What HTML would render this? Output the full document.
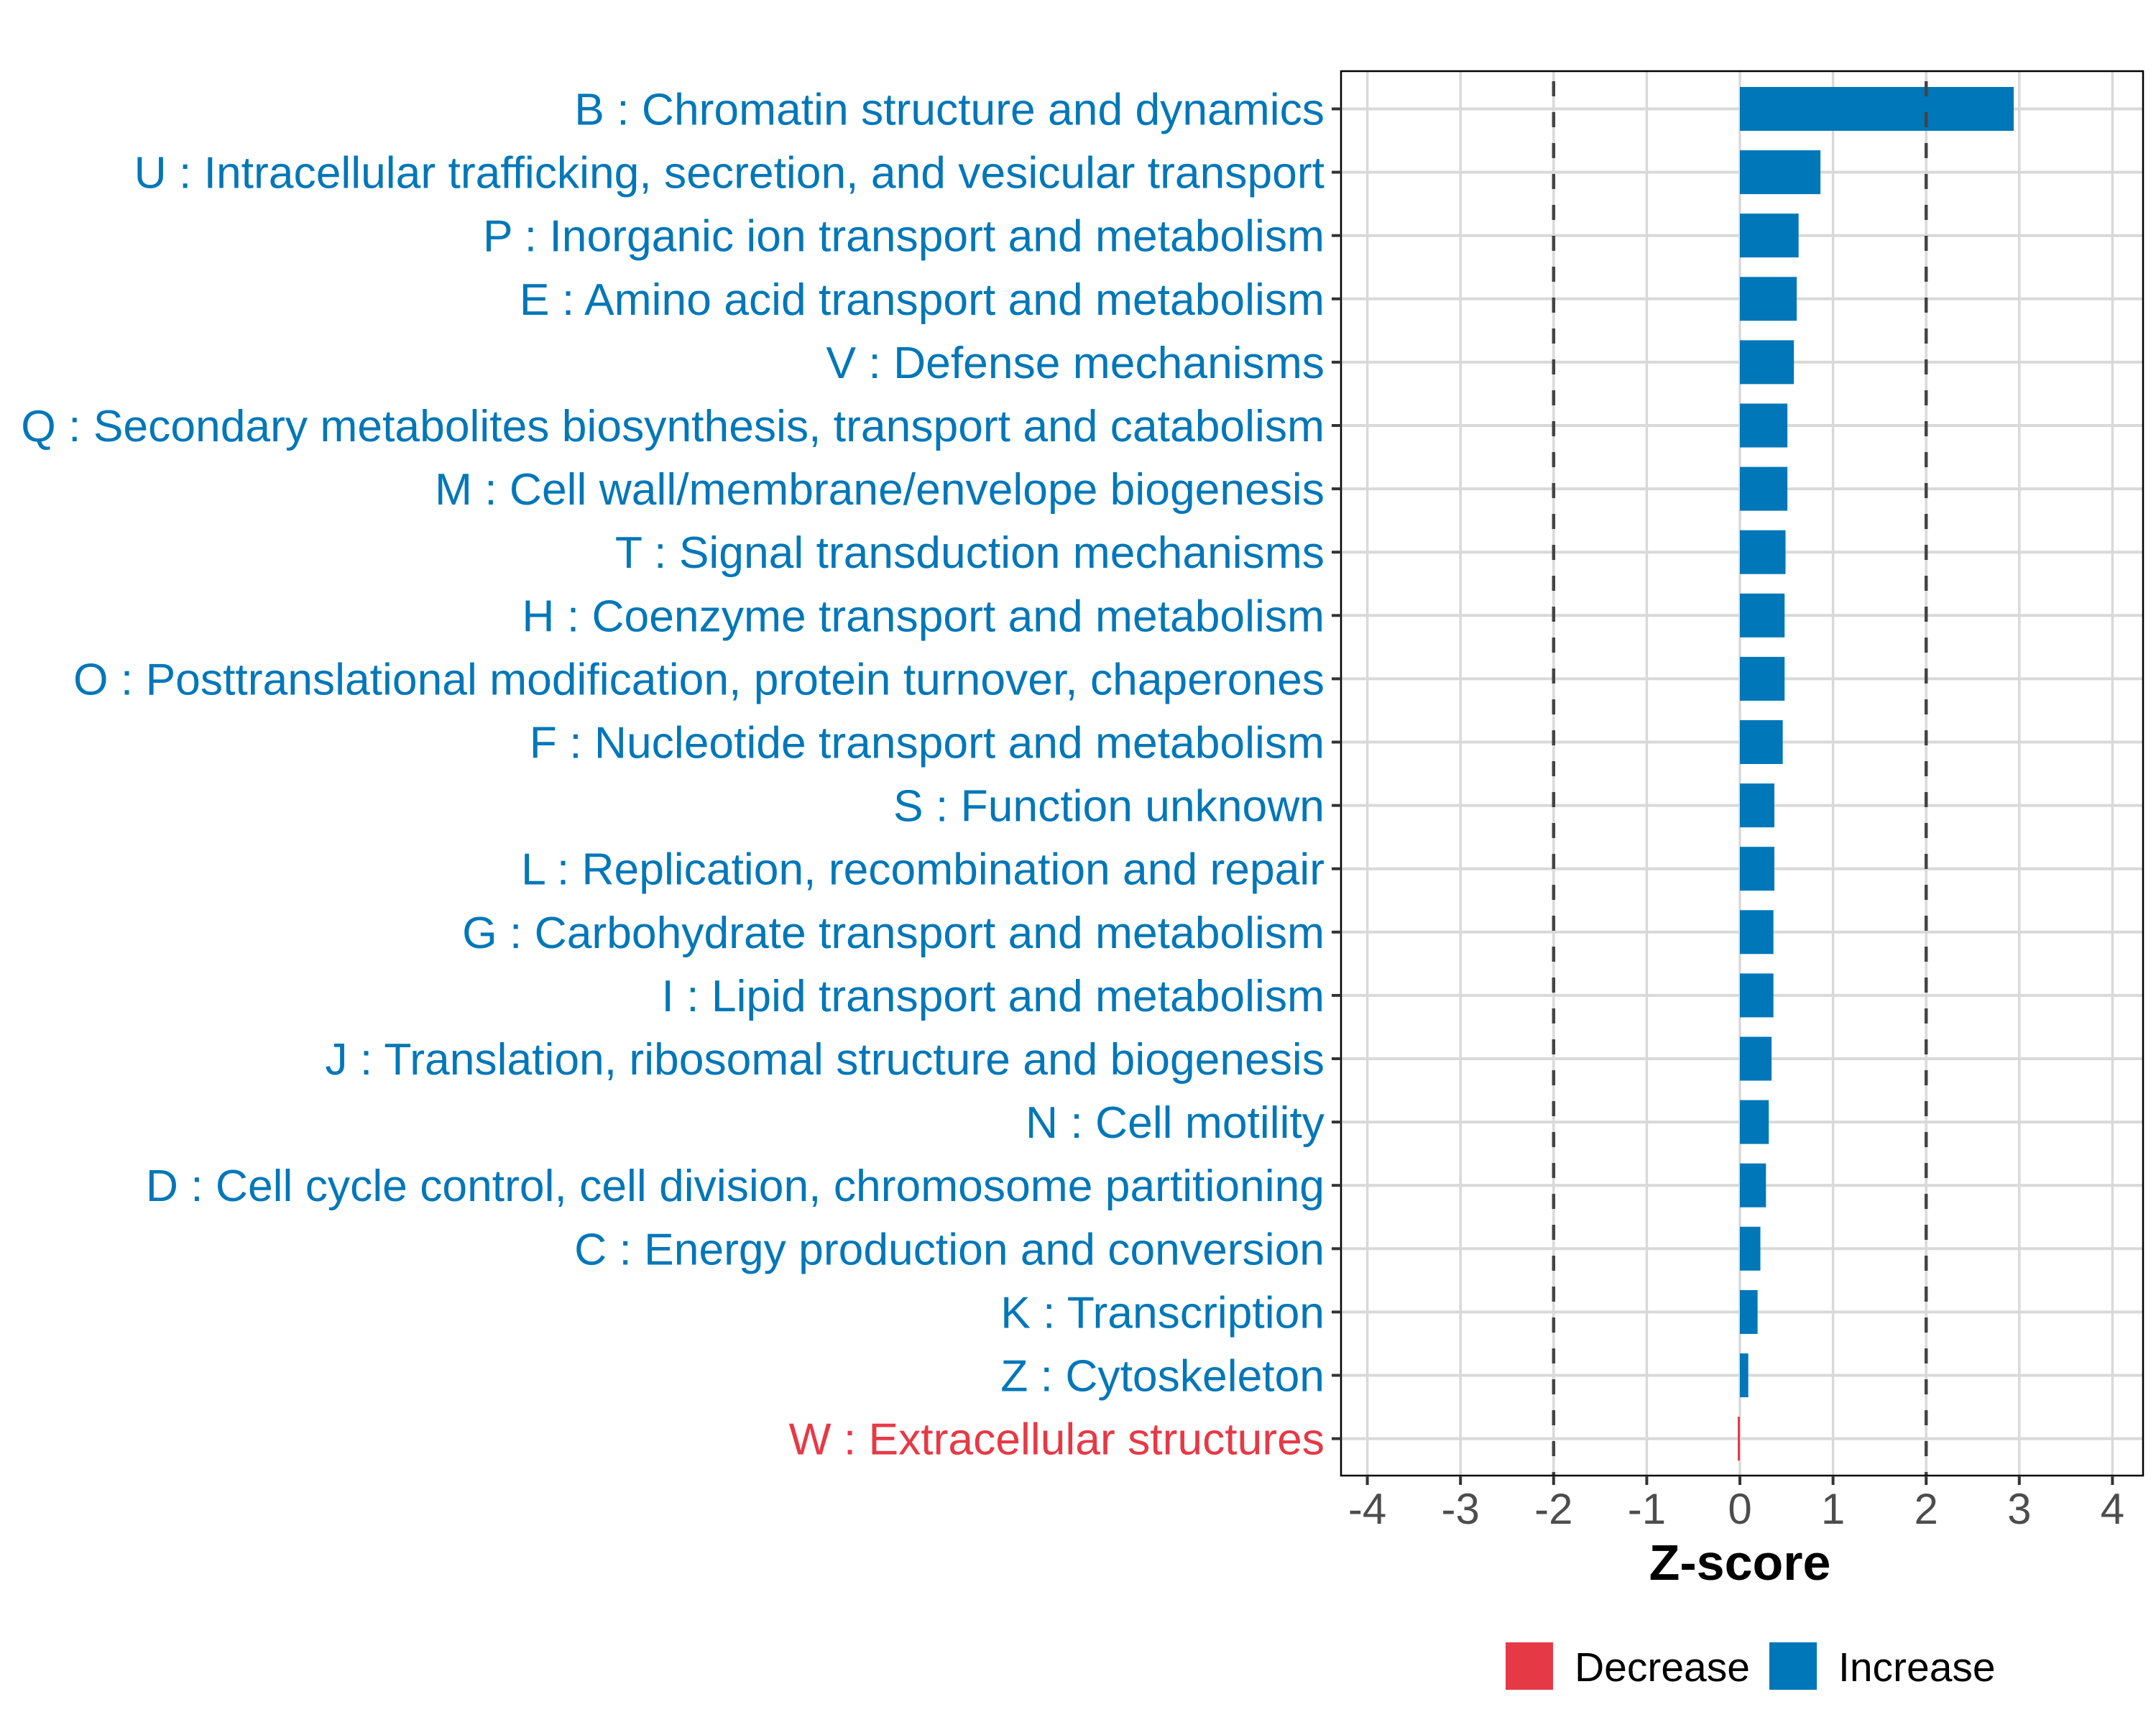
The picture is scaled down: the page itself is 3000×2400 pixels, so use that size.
<!DOCTYPE html>
<html><head><meta charset="utf-8"><style>
html,body{margin:0;padding:0;background:#fff;}
svg{display:block;font-family:"Liberation Sans",Arial,sans-serif;}
</style></head><body>
<svg id="chart" width="3000" height="2400" viewBox="0 0 3000 2400">
<rect x="0" y="0" width="3000" height="2400" fill="#fff"/>
<g id="grid"></g>
<g id="bars"></g>
<g id="refs"></g>
<rect x="1866" y="99" width="1116" height="1954" fill="none" stroke="#000" stroke-width="2.5"/>
<g id="yaxis"></g>
<g id="xaxis"></g>
<text x="2421" y="2198" font-size="70" font-weight="bold" text-anchor="middle" fill="#000">Z-score</text>
<g>
<g>
<rect x="2095" y="2285" width="66" height="66" fill="#E63946"/>
<text x="2191" y="2339" font-size="57" fill="#000">Decrease</text>
</g>
<g>
<rect x="2462" y="2285" width="66" height="66" fill="#0077B8"/>
<text x="2558" y="2339" font-size="57" fill="#000">Increase</text>
</g>
</g>
</svg>
<script>
const categories = [
"B : Chromatin structure and dynamics",
"U : Intracellular trafficking, secretion, and vesicular transport",
"P : Inorganic ion transport and metabolism",
"E : Amino acid transport and metabolism",
"V : Defense mechanisms",
"Q : Secondary metabolites biosynthesis, transport and catabolism",
"M : Cell wall/membrane/envelope biogenesis",
"T : Signal transduction mechanisms",
"H : Coenzyme transport and metabolism",
"O : Posttranslational modification, protein turnover, chaperones",
"F : Nucleotide transport and metabolism",
"S : Function unknown",
"L : Replication, recombination and repair",
"G : Carbohydrate transport and metabolism",
"I : Lipid transport and metabolism",
"J : Translation, ribosomal structure and biogenesis",
"N : Cell motility",
"D : Cell cycle control, cell division, chromosome partitioning",
"C : Energy production and conversion",
"K : Transcription",
"Z : Cytoskeleton",
"W : Extracellular structures"
];
const zscores = [2.94,0.865,0.63,0.61,0.58,0.51,0.51,0.49,0.48,0.48,0.46,0.37,0.37,0.36,0.36,0.34,0.31,0.28,0.22,0.19,0.09,-0.01];
const xTicks = [-4,-3,-2,-1,0,1,2,3,4];
const xTickLabels = ["-4","-3","-2","-1","0","1","2","3","4"];
const refLines = [-2,2];

const NS="http://www.w3.org/2000/svg";
const x0=2421, unit=129.6, yTop=151.5, step=88.1, barH=61;
const panelL=1866, panelR=2982, panelT=99, panelB=2053;
function xs(v){return x0+v*unit;}
function ys(i){return yTop+i*step;}
function mk(tag,attrs,parent){const e=document.createElementNS(NS,tag);for(const k in attrs)e.setAttribute(k,attrs[k]);parent.appendChild(e);return e;}
const grid=document.getElementById('grid'),bars=document.getElementById('bars'),refs=document.getElementById('refs'),yaxis=document.getElementById('yaxis'),xaxis=document.getElementById('xaxis');

xTicks.forEach((t,i)=>{
  const l=mk('line',{x1:xs(t),x2:xs(t),y1:panelT,y2:panelB,stroke:'#d9d9d9','stroke-width':3.5},grid);
  
  
  const tk=mk('line',{x1:xs(t),x2:xs(t),y1:panelB,y2:panelB+13,stroke:'#333','stroke-width':4},xaxis);
  
  
  const tx=mk('text',{x:xs(t),y:2120,'font-size':60,'text-anchor':'middle',fill:'#4d4d4d'},xaxis);
  tx.textContent=xTickLabels[i];
  
  
});
categories.forEach((c,i)=>{
  const y=ys(i);
  const l=mk('line',{x1:panelL,x2:panelR,y1:y,y2:y,stroke:'#d9d9d9','stroke-width':4},grid);
  
  
  const v=zscores[i];
  const col=v<0?'#E63946':'#0077B8';
  const w=Math.max(Math.abs(xs(v)-x0),3);
  const r=mk('rect',{x:v<0?x0-w:x0,y:y-barH/2,width:w,height:barH,fill:col},bars);
  
  
  const tk=mk('line',{x1:panelL-13,x2:panelL,y1:y,y2:y,stroke:'#333','stroke-width':4},yaxis);
  
  
  const tx=mk('text',{x:1843,y:y+22,'font-size':62.4,'text-anchor':'end',fill:col},yaxis);
  tx.textContent=c;
  
  
});
refLines.forEach(r=>{
  const l=mk('line',{x1:xs(r),x2:xs(r),y1:panelT,y2:panelB,stroke:'#444','stroke-width':4.5,'stroke-dasharray':'21 22','stroke-dashoffset':'-14'},refs);
  
  
});
</script>
</body></html>
